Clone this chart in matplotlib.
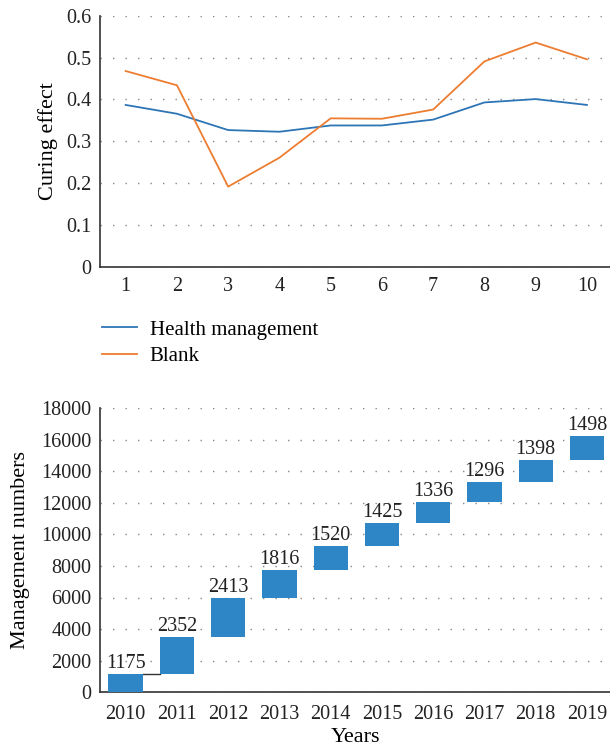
import numpy as np
import matplotlib.pyplot as plt
from matplotlib.lines import Line2D

plt.rcParams['font.family'] = ['Liberation Serif', 'DejaVu Serif']

# ── data ──────────────────────────────────────────────────────────────────────
trials = [1, 2, 3, 4, 5, 6, 7, 8, 9, 10]
health = [0.387, 0.366, 0.327, 0.323, 0.338, 0.338, 0.352, 0.393, 0.401, 0.387]
blank = [0.468, 0.434, 0.192, 0.261, 0.355, 0.354, 0.376, 0.491, 0.536, 0.496]

years = ['2010', '2011', '2012', '2013', '2014', '2015', '2016', '2017', '2018', '2019']
increments = [1175, 2352, 2413, 1816, 1520, 1425, 1336, 1296, 1398, 1498]

BLUE = '#2E75B6'
ORANGE = '#ED7D31'
BAR = '#2F86C6'
DOT = (0, (1, 8))

fig = plt.figure(figsize=(6.1, 7.5), dpi=100)

def style(ax, xpad=6):
    for s in ['top', 'right']:
        ax.spines[s].set_visible(False)
    for s in ['left', 'bottom']:
        ax.spines[s].set_color('#333333')
        ax.spines[s].set_linewidth(1.2)
    ax.tick_params(length=0, labelsize=14.5, pad=6, labelcolor='#222222')
    ax.tick_params(axis='x', pad=xpad)
    ax.grid(axis='y', color='#888888', linestyle=DOT, lw=1.0)
    ax.set_axisbelow(True)

# ── top: line chart ───────────────────────────────────────────────────────────
ax1 = fig.add_axes([0.164, 0.644, 0.836, 0.335])
ax1.plot(trials, health, color=BLUE, lw=1.3)
ax1.plot(trials, blank, color=ORANGE, lw=1.3)
ax1.set_xlim(0.5, 10.45)
ax1.set_ylim(0, 0.6)
ax1.set_xticks(trials)
ax1.set_yticks(np.arange(0, 0.61, 0.1))
ax1.set_yticklabels(['0', '0.1', '0.2', '0.3', '0.4', '0.5', '0.6'])
ax1.set_ylabel('Curing effect', fontsize=16, labelpad=6)
style(ax1, xpad=7)

handles = [Line2D([], [], color=BLUE, lw=1.3), Line2D([], [], color=ORANGE, lw=1.3)]
fig.legend(handles, ['Health management', 'Blank'], loc='upper left',
           bbox_to_anchor=(0.16, 0.579), frameon=False, fontsize=15,
           handlelength=1.7, handletextpad=0.6, labelspacing=0.35,
           borderaxespad=0, borderpad=0.2)

# ── bottom: waterfall ─────────────────────────────────────────────────────────
ax2 = fig.add_axes([0.164, 0.077, 0.836, 0.379])
x = np.arange(len(years))
inc = np.array(increments)
tops = np.cumsum(inc)
bottoms = tops - inc
ax2.bar(x, inc, bottom=bottoms, width=0.67, color=BAR, zorder=3)
for xi, t, v in zip(x, tops, inc):
    ax2.text(xi, t + 60, str(v), ha='center', va='bottom', fontsize=14.5, color='#222222')
ax2.plot([x[0] + 0.335, x[1] - 0.335], [tops[0], tops[0]], color='#333333', lw=1.0, zorder=2)
ax2.set_xlim(-0.5, 9.45)
ax2.set_ylim(0, 18000)
ax2.set_xticks(x)
ax2.set_xticklabels(years)
ax2.set_yticks(np.arange(0, 18001, 2000))
ax2.set_xlabel('Years', fontsize=16, labelpad=3)
ax2.set_ylabel('Management numbers', fontsize=16, labelpad=8)
style(ax2, xpad=9)

plt.savefig('out.png', dpi=100)
